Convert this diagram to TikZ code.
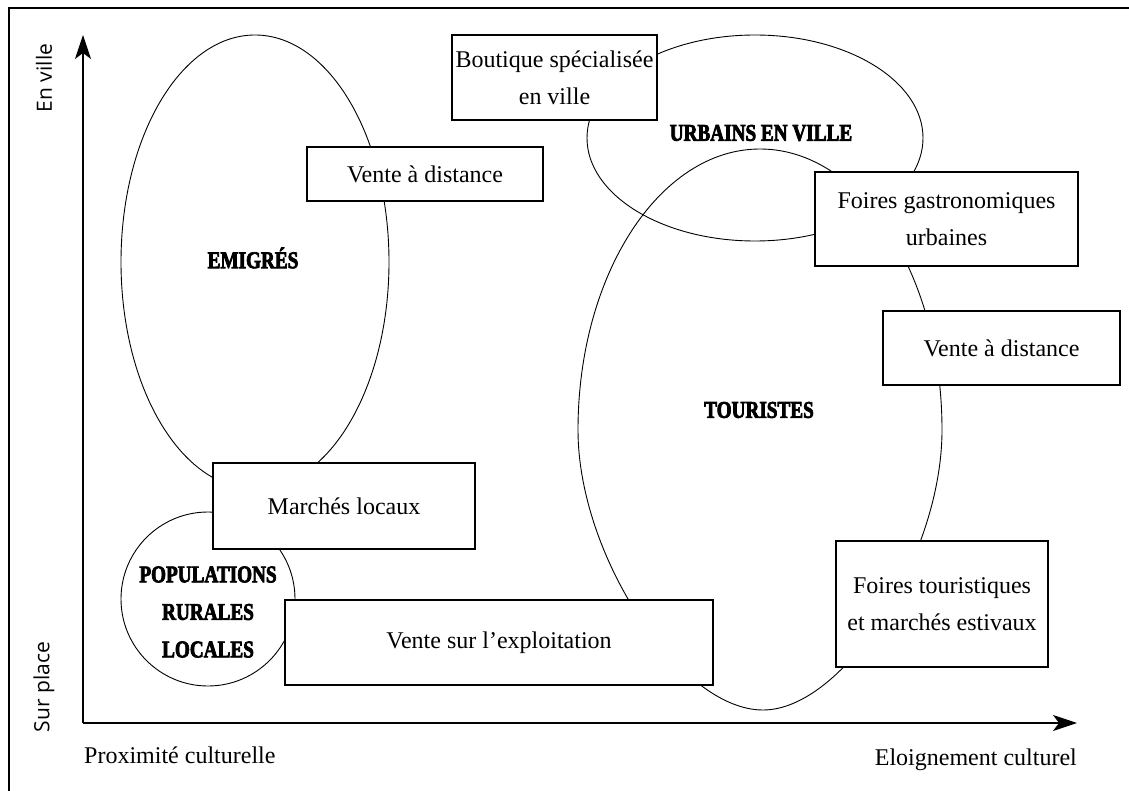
\documentclass[tikz,border=0pt]{standalone}
\usepackage{fontspec}
\setmainfont{Liberation Serif}
\newfontfamily\axisfont{Open Sans}
\newfontfamily\zonefont{Liberation Serif}[FakeStretch=0.8, FakeBold=3]
\usetikzlibrary{arrows.meta,shapes.geometric}

\begin{document}
\begin{tikzpicture}[x=1pt,y=-1pt,
  zone/.style={draw, ellipse, line width=0.9pt, inner sep=0pt},
  zoneline/.style={line width=0.9pt},
  outlet/.style={draw, fill=white, line width=1.2pt, align=center, inner sep=0pt,
    font=\fontsize{24}{37}\selectfont},
  zonelabel/.style={align=center, inner sep=0pt,
    font=\zonefont\bfseries\fontsize{24}{37.5}\selectfont},
  axislabel/.style={font=\axisfont\fontsize{21}{25}\selectfont, rotate=90, inner sep=0pt},
  axisline/.style={line width=1.4pt, -{Stealth[length=24pt,width=16pt,inset=6pt]}},
  caption/.style={font=\fontsize{24}{29}\selectfont, inner sep=0pt}]

\useasboundingbox (0,0) rectangle (1129,791);

% frame (top and left edges)
\draw[line width=1.5pt] (9,791) |- (1129,8);

% customer zones
\node[zone, minimum width=268pt, minimum height=454pt] (emig) at (255,262) {};
\node[zone, minimum width=336pt, minimum height=206pt] (urb) at (755,138) {};
\node[zone, minimum width=174pt, minimum height=174pt] (pop) at (208,599) {};

% tourist zone: oval, slightly narrower towards the bottom
\coordinate (tourN) at (760,149);
\coordinate (tourE) at (942,430);
\coordinate (tourS) at (763,710);
\coordinate (tourW) at (578,430);
\draw[zoneline]
  (tourN) .. controls (861,149) and (942,274.8) .. (tourE)
          .. controls (942,556) and (843.5,710) .. (tourS)
          .. controls (680,710) and (578,556) .. (tourW)
          .. controls (578,274.8) and (659.5,149) .. (tourN) -- cycle;

\node[zonelabel] (lemig) at (253,258) {EMIGRÉS};
\node[zonelabel] (lurb) at (761,133) {URBAINS EN VILLE};
\node[zonelabel] (ltour) at (759,410) {TOURISTES};
\node[zonelabel] (lpop) at (208,612) {POPULATIONS\\RURALES\\LOCALES};

% sales channels
\node[outlet, minimum width=205pt, minimum height=85pt] (bout) at (554.5,77.5) {Boutique spécialisée\\en ville};
\node[outlet, minimum width=236pt, minimum height=54pt] (vdl) at (425,174) {Vente à distance};
\node[outlet, minimum width=263pt, minimum height=94pt] (fga) at (946.5,219) {Foires gastronomiques\\urbaines};
\node[outlet, minimum width=237pt, minimum height=74pt] (vdr) at (1001.5,348) {Vente à distance};
\node[outlet, minimum width=262pt, minimum height=86pt] (mar) at (344,506) {Marchés locaux};
\node[outlet, minimum width=428pt, minimum height=85pt] (vse) at (499,642.5) {Vente sur l'exploitation};
\node[outlet, minimum width=212pt, minimum height=126pt] (fto) at (942,604) {Foires touristiques\\et marchés estivaux};

% axes
\coordinate (o) at (83,723);
\coordinate (ytip) at (83,35);
\coordinate (xtip) at (1077,723);
\draw[axisline] (o) -- (ytip);
\draw[axisline] (o) -- (xtip);

\node[axislabel] (enville) at (44,78) {En ville};
\node[axislabel] (surplace) at (44,687) {Sur place};
\node[caption, anchor=base west] (prox) at (84,763) {Proximité culturelle};
\node[caption, anchor=base east] (eloi) at (1077,765) {Eloignement culturel};
\end{tikzpicture}
\end{document}
